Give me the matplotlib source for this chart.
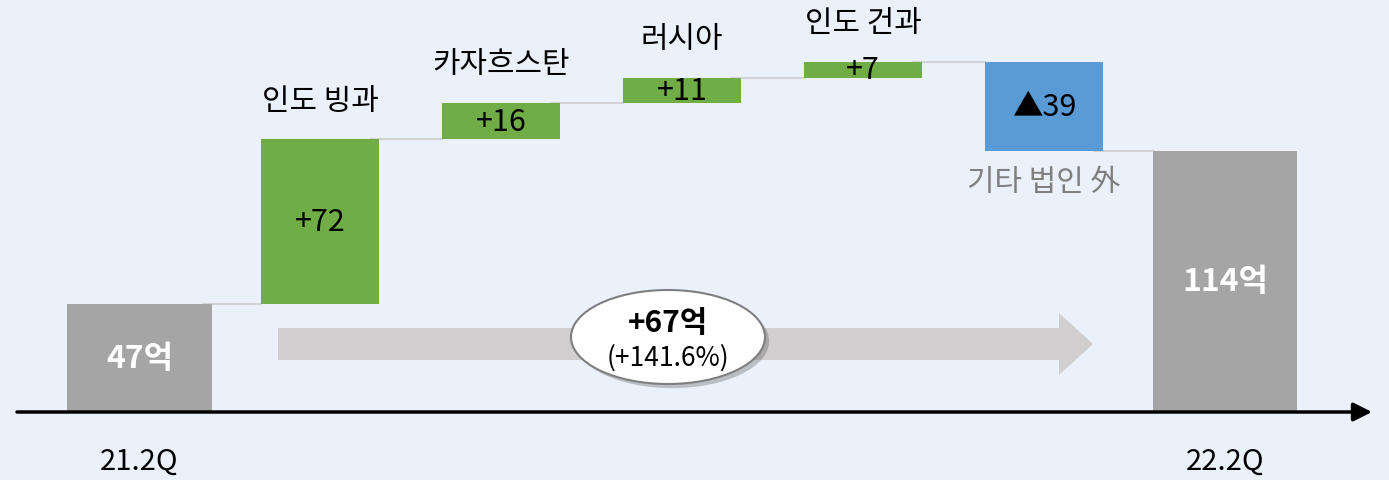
import matplotlib
matplotlib.use('Agg')
import matplotlib.pyplot as plt
import matplotlib.patheffects as pe
from matplotlib.patches import Ellipse, FancyArrow
import numpy as np

plt.rcParams['font.family'] = ['Noto Sans CJK KR', 'DejaVu Sans']

# data
categories = ['21.2Q', '인도 빙과', '카자흐스탄', '러시아', '인도 건과', '기타 법인 外', '22.2Q']
changes = [47, 72, 16, 11, 7, -39, 114]
kinds = ['total', 'up', 'up', 'up', 'up', 'down', 'total']
value_labels = ['47억', '+72', '+16', '+11', '+7', '▲39', '114억']
delta_label = '+67억'
delta_pct = '(+141.6%)'

BG = '#EAF1FA'
COLORS = {'total': '#A5A5A5', 'up': '#70AD47', 'down': '#5B9BD5'}

# waterfall geometry from the data
bottoms, heights = [], []
level = 0
for v, k in zip(changes, kinds):
    if k == 'total':
        bottoms.append(0)
        heights.append(v)
        level = v
    elif v >= 0:
        bottoms.append(level)
        heights.append(v)
        level += v
    else:
        level += v
        bottoms.append(level)
        heights.append(-v)
tops = [b + h for b, h in zip(bottoms, heights)]

fig = plt.figure(figsize=(13.89, 4.81), dpi=100)
fig.patch.set_facecolor(BG)
ax = fig.add_axes([0, 0, 1, 1])
ax.set_facecolor(BG)
ax.axis('off')

# scale: one category step = 180.9 px, one unit = 2.29 px
XS, YS, X0, Y0 = 180.9, 2.29, 139.5, 413
ax.set_xlim(-X0 / XS, (1389 - X0) / XS)
ax.set_ylim(-(481 - Y0) / YS, Y0 / YS)


def px(x, y):
    return (x - X0) / XS, (Y0 - y) / YS


x = np.arange(len(categories))
widths = [0.80 if k == 'total' else 0.652 for k in kinds]
colors = [COLORS[k] for k in kinds]
ax.bar(x, heights, bottom=bottoms, width=widths, color=colors, zorder=3)

# connectors between bars
for i in range(len(x) - 1):
    lvl = bottoms[i] if kinds[i] == 'down' else tops[i]
    ax.plot([x[i] + widths[i] / 2 - 0.05, x[i + 1] - widths[i + 1] / 2],
            [lvl, lvl], color='#D3D3D3', lw=1.5, zorder=2)

# labels
for i, (lab, vl, k) in enumerate(zip(categories, value_labels, kinds)):
    mid = bottoms[i] + heights[i] / 2
    if k == 'total':
        ax.text(x[i], mid, vl, ha='center', va='center', color='white',
                fontsize=23, fontweight='bold', zorder=5)
        ax.text(x[i], px(0, 462)[1], lab, ha='center', va='center',
                fontsize=21, color='black')
    else:
        ax.text(x[i], mid, vl, ha='center', va='center', color='black',
                fontsize=22, zorder=5)
        if k == 'up':
            ax.annotate(lab, (x[i], tops[i]), xytext=(0, 28),
                        textcoords='offset points', ha='center', va='center',
                        fontsize=21.5, color='black')
        else:
            ax.annotate(lab, (x[i], bottoms[i]), xytext=(0, -22),
                        textcoords='offset points', ha='center', va='center',
                        fontsize=21.5, color='#7F7F7F')

# baseline with arrow
ax.annotate('', xy=(px(1372, 0)[0], 0), xytext=(px(17, 0)[0], 0),
            arrowprops=dict(arrowstyle='-|>', mutation_scale=28, lw=2.5,
                            color='black', shrinkA=0, shrinkB=0), zorder=6)

# growth arrow
ax0, ay = px(278, 345)
ax1, _ = px(1093, 345)
arrow = FancyArrow(ax0, ay, ax1 - ax0, 0, width=32 / YS, head_width=62 / YS,
                   head_length=34 / XS, length_includes_head=True,
                   color='#D0CECE', lw=0, zorder=2)
ax.add_patch(arrow)

# ellipse callout
ex, ey = px(668, 338)
ell = Ellipse((ex, ey), 194 / XS, 94 / YS, facecolor='white',
              edgecolor='#7F7F7F', lw=1.5, zorder=4)
ell.set_path_effects([pe.SimplePatchShadow(offset=(3, -3), alpha=0.3),
                      pe.Normal()])
ax.add_patch(ell)
ax.text(ex, px(0, 323)[1], delta_label, ha='center', va='center',
        fontsize=21.5, fontweight='bold', zorder=5)
ax.text(ex, px(0, 358)[1], delta_pct, ha='center', va='center',
        fontsize=19, zorder=5)

fig.savefig('out.png', dpi=100, facecolor=BG)
